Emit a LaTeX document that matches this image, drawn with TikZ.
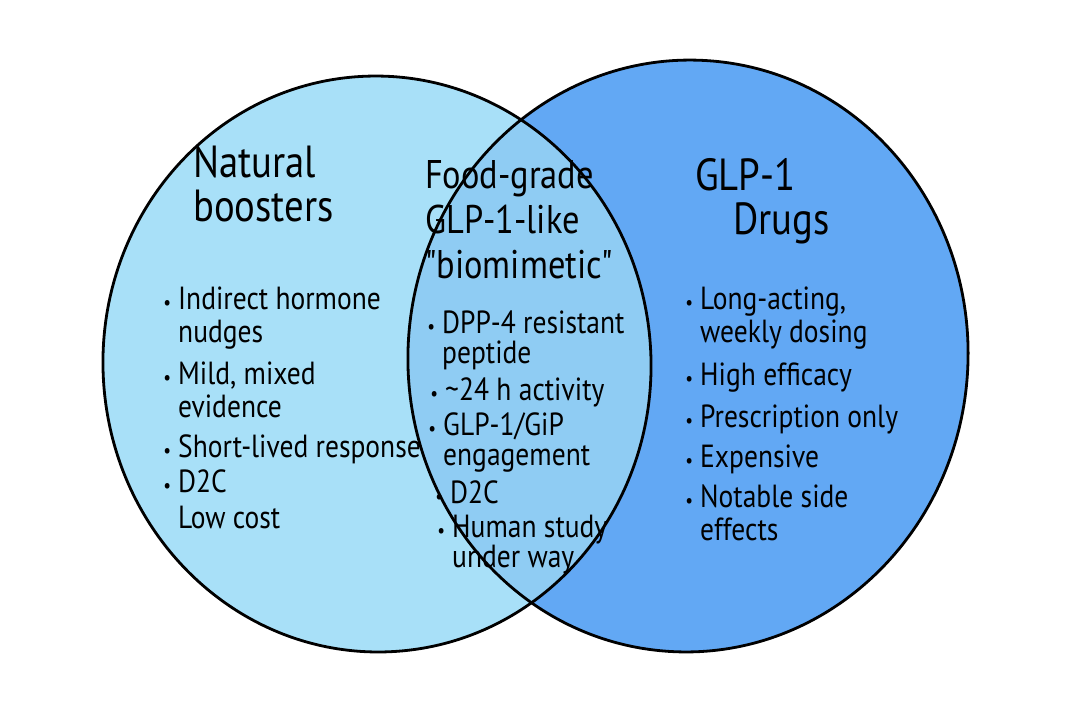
\documentclass[tikz,border=0pt]{standalone}
\usepackage{fontspec}
\setmainfont[FakeStretch=0.86, Ligatures=TeXOff]{PT Sans}
\definecolor{leftblue}{RGB}{168,224,248}
\definecolor{rightblue}{RGB}{98,168,244}
\definecolor{lensblue}{RGB}{143,204,243}
\tikzset{ring/.style={draw=black, line width=2.8pt},
  ttl/.style={anchor=base west, align=left, inner sep=0pt, font=\fontsize{45}{44}\selectfont},
  itm/.style={anchor=base west, align=left, inner sep=0pt, font=\fontsize{32}{33}\selectfont}}
\newcommand{\dotitem}{\llap{{\fontsize{20}{20}\selectfont\textbullet}\hspace{7pt}}}

\begin{document}
\begin{tikzpicture}[x=1pt, y=-1pt]
  \useasboundingbox (0,0) rectangle (1075,716);
  \fill[white] (0,0) rectangle (1075,716);
  % the two sets
  \fill[leftblue, rotate around={3:(377,364)}] (377,364) ellipse [x radius=274pt, y radius=288pt];
  \fill[rightblue, rotate around={-4:(688,356)}] (688,356) ellipse [x radius=280pt, y radius=296pt];
  % overlap
  \begin{scope}
    \clip[rotate around={3:(377,364)}] (377,364) ellipse [x radius=274pt, y radius=288pt];
    \fill[lensblue, rotate around={-4:(688,356)}] (688,356) ellipse [x radius=280pt, y radius=296pt];
  \end{scope}
  \draw[ring, rotate around={3:(377,364)}] (377,364) ellipse [x radius=274pt, y radius=288pt];
  \draw[ring, rotate around={-4:(688,356)}] (688,356) ellipse [x radius=280pt, y radius=296pt];

  % left set (nodes sit on the baseline of their last line)
  \node[ttl] (natt) at (193,221) {Natural\\boosters};
  \node[itm] (nat1) at (178,342) {\dotitem Indirect hormone\\nudges};
  \node[itm] (nat2) at (178,417) {\dotitem Mild, mixed\\evidence};
  \node[itm] (nat3) at (178,457) {\dotitem Short-lived response};
  \node[itm] (nat4) at (178,528) {\dotitem D2C\\[3pt]Low cost};

  % overlap
  \node[ttl, font=\fontsize{40}{45}\selectfont] (midt) at (425,278) {Food-grade\\GLP-1-like\\"biomimetic"};
  \node[itm] (mid1) at (442,363) {\dotitem DPP-4 resistant\\[-3pt]peptide};
  \node[itm] (mid2) at (445,400) {\dotitem \textasciitilde 24 h activity};
  \node[itm] (mid3) at (443,465) {\dotitem GLP-1/GiP\\[-3pt]engagement};
  \node[itm] (mid4) at (450,503) {\dotitem D2C};
  \node[itm] (mid5) at (452,567) {\dotitem Human study\\[-3pt]under way};

  % right set
  \node[ttl] (drgt) at (695,234) {GLP-1\\\hspace{38pt}Drugs};
  \node[itm] (drg1) at (700,342) {\dotitem Long-acting,\\weekly dosing};
  \node[itm] (drg2) at (700,385) {\dotitem High efficacy};
  \node[itm] (drg3) at (700,427) {\dotitem Prescription only};
  \node[itm] (drg4) at (700,467) {\dotitem Expensive};
  \node[itm] (drg5) at (700,540) {\dotitem Notable side\\effects};
\end{tikzpicture}
\end{document}
